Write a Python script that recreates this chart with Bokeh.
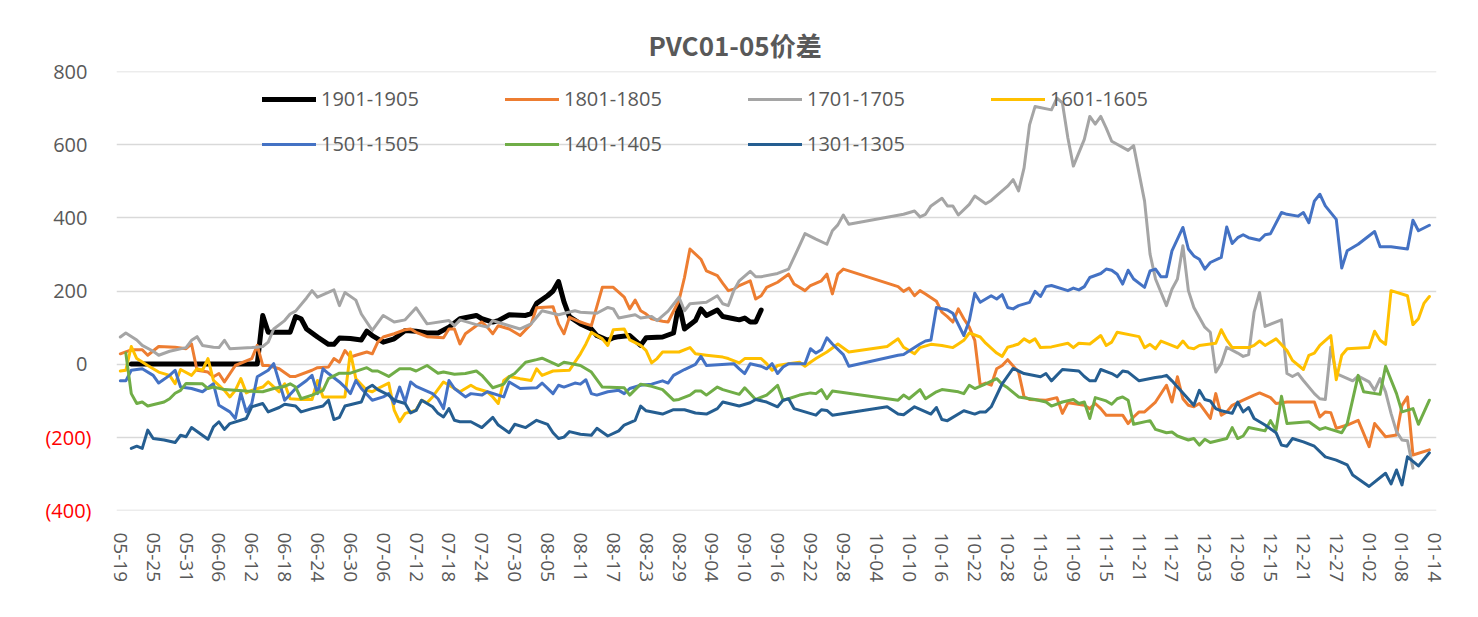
from bokeh.plotting import figure
from bokeh.models import FixedTicker, Legend, LegendItem, Range1d, LinearAxis
from bokeh.embed import file_html
from bokeh.resources import INLINE

TITLE = "PVC01-05价差"
# x = days after 05-19 (calendar days); y = spread value
TICK_DAYS = list(range(0, 241, 6))
TICK_LABELS = ["05-19", "05-25", "05-31", "06-06", "06-12", "06-18", "06-24", "06-30",
               "07-06", "07-12", "07-18", "07-24", "07-30", "08-05", "08-11", "08-17",
               "08-23", "08-29", "09-04", "09-10", "09-16", "09-22", "09-28", "10-04",
               "10-10", "10-16", "10-22", "10-28", "11-03", "11-09", "11-15", "11-21",
               "11-27", "12-03", "12-09", "12-15", "12-21", "12-27", "01-02", "01-08", "01-14"]
Y_TICKS = [-400, -200, 0, 200, 400, 600, 800]
Y_LABELS = ["(400)", "(200)", "0", "200", "400", "600", "800"]

S_1901 = [(2,0),(25,0),(26,133),(27,87),(31,87),(32,130),(33,124),(34,96),(36,74),(38,54),(39,54),(40,71),
          (42,70),(44,66),(45,90),(46,78),(48,60),(50,69),(52,92),(54,90),(56,85),(58,85),(60,101),(62,124),
          (65,133),(66,124),(68,115),(69,119),(71,135),(74,133),(75,138),(76,166),(78,187),(79,200),(80,226),
          (81,170),(82,130),(84,110),(86,96),(87,78),(89,65),(90,72),(91,75),(93,78),(95,51),(96,72),(99,74),
          (101,85),(102,166),(103,96),(105,119),(106,151),(107,133),(109,148),(110,130),(112,124),(113,121),
          (114,126),(115,115),(116,115),(117,148)]

S_1801 = [(0,28),(2,39),(4,39),(5,24),(7,48),(10,46),(12,42),(13,55),(14,-17),(16,-22),(17,-35),(18,-26),
          (19,-49),(21,-4),(24,15),(25,51),(26,-4),(27,-4),(29,-13),(31,-34),(32,-34),(35,-17),(36,-10),(38,-8),
          (39,15),(40,5),(41,37),(42,19),(43,24),(45,33),(46,28),(47,60),(48,74),(50,83),(52,94),(53,96),(54,87),
          (56,75),(59,72),(60,96),(61,96),(62,55),(63,83),(65,105),(66,115),(67,101),(68,83),(69,105),(71,96),
          (72,87),(73,78),(75,110),(76,154),(79,157),(80,110),(81,83),(82,128),(84,115),(85,110),(86,105),
          (88,210),(90,210),(92,183),(93,151),(94,175),(95,146),(96,137),(97,124),(99,117),(100,115),(102,174),
          (103,237),(104,315),(106,287),(107,255),(109,242),(110,221),(111,201),(112,205),(113,215),(115,228),
          (116,178),(117,187),(118,210),(120,224),(122,246),(123,219),(125,201),(126,215),(128,228),(129,246),
          (130,192),(131,246),(132,260),(142,212),(143,199),(144,208),(145,187),(146,201),(147,192),(149,172),
          (150,142),(151,130),(152,115),(153,151),(154,124),(155,101),(156,65),(157,-58),(158,-52),(159,-58),
          (160,-13),(161,-4),(162,12),(164,-22),(165,-90),(166,-97),(169,-99),(171,-92),(172,-135),(173,-106),
          (174,-108),(176,-113),(177,-122),(178,-108),(179,-122),(180,-140),(183,-140),(184,-163),(185,-145),
          (186,-131),(187,-131),(189,-104),(191,-58),(192,-104),(193,-35),(194,-95),(195,-113),(196,-117),
          (197,-108),(199,-149),(200,-81),(201,-140),(202,-131),(203,-113),(205,-99),(207,-85),(208,-79),
          (210,-92),(211,-108),(213,-104),(218,-104),(219,-145),(220,-131),(221,-133),(222,-176),(224,-167),
          (226,-154),(228,-226),(229,-163),(231,-199),(233,-194),(234,-113),(235,-90),(236,-249),(239,-235)]

S_1701 = [(0,74),(1,85),(3,66),(4,51),(6,35),(7,24),(9,35),(12,45),(13,65),(14,75),(15,51),(17,46),(18,45),
          (19,65),(20,42),(24,45),(26,48),(27,60),(28,96),(30,119),(31,137),(32,145),(34,181),(35,201),(36,183),
          (39,203),(40,160),(41,196),(43,175),(44,137),(46,92),(48,133),(50,115),(52,121),(54,154),(56,110),
          (60,119),(61,105),(62,121),(65,108),(67,101),(68,119),(71,105),(73,96),(75,110),(77,146),(80,135),
          (83,146),(84,142),(87,139),(89,155),(90,151),(91,126),(94,135),(95,126),(97,130),(98,119),(100,145),
          (102,183),(103,146),(104,165),(107,169),(109,187),(110,165),(111,160),(112,201),(113,228),(115,254),
          (116,239),(117,239),(120,248),(122,260),(123,292),(124,324),(125,357),(127,342),(129,328),(130,365),
          (131,381),(132,408),(133,383),(143,410),(145,419),(146,403),(147,410),(148,433),(150,454),(151,433),
          (152,433),(153,408),(155,437),(156,460),(158,439),(159,448),(161,474),(162,487),(163,505),(164,474),
          (165,537),(166,655),(167,705),(170,696),(171,728),(172,715),(173,619),(174,542),(176,615),(177,678),
          (178,657),(179,678),(180,646),(181,610),(184,585),(185,598),(187,446),(188,301),(189,233),(191,160),
          (192,205),(193,233),(194,324),(195,201),(196,155),(198,101),(199,87),(200,-22),(201,1),(202,46),
          (204,30),(205,21),(206,26),(207,142),(208,196),(209,103),(212,121),(213,-26),(214,-34),(215,-26),
          (216,-45),(218,-81),(219,-95),(220,-97),(221,46),(222,-26),(225,-46),(226,-33),(228,-49),(229,-72),
          (230,-40),(231,-76),(232,-135),(233,-185),(234,-208),(235,-210),(236,-285)]

S_1601 = [(0,-19),(1,-17),(2,48),(3,15),(5,-4),(7,-22),(9,-31),(10,-54),(11,-15),(13,-31),(14,-13),(15,-17),
          (16,15),(17,-45),(19,-72),(20,-90),(21,-72),(22,-40),(23,-79),(24,-72),(26,-63),(27,-49),(29,-76),
          (30,-54),(31,-95),(33,-97),(35,-97),(36,-45),(37,-90),(39,-90),(41,-90),(42,33),(43,-40),(45,-72),
          (46,-76),(47,-67),(49,-52),(50,-126),(51,-158),(52,-135),(54,-126),(55,-99),(56,-106),(57,-90),(59,-49),
          (60,-58),(62,-76),(63,-67),(64,-58),(65,-67),(67,-76),(68,-90),(69,-108),(70,-45),(71,-34),(73,-40),
          (75,-45),(76,-13),(77,-31),(79,-19),(82,-17),(84,28),(85,55),(86,87),(88,69),(89,51),(90,94),(92,96),
          (93,66),(95,51),(96,37),(97,3),(98,15),(99,33),(102,33),(104,45),(105,28),(107,24),(110,19),(111,15),
          (113,3),(114,15),(117,15),(118,1),(119,-17),(120,-4),(122,1),(124,5),(125,-6),(126,5),(127,15),(129,33),
          (131,55),(133,33),(140,48),(142,69),(143,46),(145,28),(146,45),(148,54),(150,51),(152,45),(153,55),
          (154,65),(155,85),(157,74),(158,57),(160,30),(161,21),(162,46),(163,50),(164,55),(165,69),(166,60),
          (167,69),(168,45),(170,47),(173,57),(174,45),(175,57),(177,55),(179,78),(180,51),(181,60),(182,87),
          (186,75),(187,45),(188,54),(189,42),(190,63),(193,45),(194,63),(195,45),(196,42),(197,51),(200,57),
          (201,94),(202,66),(203,45),(206,45),(207,51),(208,63),(209,51),(211,69),(213,37),(214,10),(216,-15),
          (217,24),(218,30),(219,51),(221,78),(222,-43),(223,24),(224,42),(228,45),(229,90),(230,65),(231,54),
          (232,201),(235,187),(236,108),(237,124),(238,166),(239,185)]

S_1501 = [(0,-46),(1,-46),(2,-17),(4,-13),(6,-31),(7,-52),(9,-31),(10,-17),(11,-63),(13,-67),(15,-76),(17,-54),
          (18,-113),(20,-131),(21,-149),(22,-79),(23,-131),(24,-108),(25,-35),(27,-17),(28,1),(30,-99),(32,-67),
          (34,-45),(35,-31),(36,-81),(37,-13),(38,-26),(40,-49),(41,-63),(42,-81),(43,-45),(44,-67),(46,-99),
          (48,-90),(49,-81),(50,-108),(51,-63),(52,-104),(53,-49),(54,-61),(57,-81),(58,-95),(59,-122),(60,-45),
          (61,-67),(63,-90),(64,-81),(66,-85),(67,-76),(70,-90),(71,-49),(73,-67),(76,-65),(77,-52),(79,-81),
          (80,-58),(81,-63),(83,-52),(84,-55),(85,-43),(86,-81),(87,-85),(89,-76),(91,-72),(92,-81),(93,-67),
          (95,-58),(97,-55),(99,-46),(100,-52),(101,-31),(103,-15),(105,-1),(106,21),(107,-4),(112,1),(113,-13),
          (114,-26),(115,1),(117,-6),(118,-13),(119,1),(120,-26),(121,-8),(122,1),(125,1),(126,42),(127,30),
          (128,39),(129,72),(130,55),(132,26),(133,-6),(142,24),(143,26),(146,55),(147,63),(148,66),(149,155),
          (151,148),(152,139),(154,78),(155,119),(156,194),(157,169),(159,187),(160,178),(161,190),(162,155),
          (163,151),(164,160),(166,169),(167,199),(168,185),(169,212),(170,215),(173,201),(174,208),(175,203),
          (176,212),(177,237),(179,248),(180,260),(181,257),(182,246),(183,219),(184,257),(185,233),(187,210),
          (188,255),(189,260),(190,239),(191,239),(192,310),(194,374),(195,315),(196,296),(197,287),(198,260),
          (199,278),(201,292),(202,375),(203,330),(204,346),(205,354),(206,346),(208,339),(209,354),(210,357),
          (212,415),(213,410),(215,405),(216,415),(217,387),(218,446),(219,465),(220,433),(222,396),(223,263),
          (224,310),(226,328),(229,363),(230,321),(232,321),(235,315),(236,394),(237,365),(239,380)]

S_1401 = [(1,30),(2,-81),(3,-108),(4,-104),(5,-115),(8,-104),(9,-95),(10,-80),(11,-72),(12,-53),(15,-54),
          (16,-67),(17,-63),(19,-70),(23,-74),(26,-76),(28,-67),(30,-61),(31,-54),(32,-63),(33,-95),(35,-85),
          (37,-72),(38,-40),(40,-25),(42,-25),(45,-10),(46,-19),(47,-19),(49,-34),(51,-13),(53,-13),(54,-19),
          (56,-4),(58,-25),(59,-22),(61,-28),(63,-26),(65,-19),(66,-31),(68,-65),(70,-55),(71,-35),(72,-26),
          (74,5),(76,12),(77,16),(80,-4),(81,5),(82,2),(84,-4),(86,-22),(88,-63),(92,-65),(93,-85),(95,-55),
          (97,-61),(99,-70),(101,-99),(102,-97),(104,-85),(105,-74),(106,-74),(107,-85),(109,-63),(110,-70),
          (113,-83),(114,-65),(116,-97),(118,-85),(119,-72),(120,-58),(121,-99),(122,-95),(124,-85),(126,-79),
          (127,-81),(128,-70),(129,-95),(130,-74),(142,-99),(143,-85),(144,-95),(146,-70),(147,-95),(149,-76),
          (150,-70),(153,-76),(154,-81),(155,-58),(156,-67),(158,-54),(160,-40),(161,-55),(162,-65),(164,-90),
          (167,-97),(169,-104),(170,-115),(172,-104),(174,-97),(175,-108),(176,-104),(177,-149),(178,-92),
          (180,-101),(181,-110),(182,-95),(183,-90),(184,-99),(185,-165),(188,-155),(189,-179),(191,-188),
          (192,-186),(193,-197),(195,-208),(196,-204),(197,-222),(198,-206),(199,-215),(202,-204),(203,-174),
          (204,-204),(205,-197),(206,-174),(209,-183),(210,-155),(211,-181),(212,-88),(213,-163),(217,-158),
          (219,-179),(220,-174),(221,-179),(223,-188),(224,-163),(226,-31),(227,-76),(230,-83),(231,-6),
          (233,-81),(234,-131),(236,-122),(237,-165),(239,-99)]

S_1301 = [(2,-231),(3,-225),(4,-231),(5,-181),(6,-204),(8,-208),(10,-215),(11,-195),(12,-199),(13,-174),
          (16,-206),(17,-172),(18,-158),(19,-179),(20,-163),(23,-149),(24,-117),(26,-108),(27,-131),(29,-119),
          (30,-110),(32,-115),(33,-131),(35,-122),(37,-115),(38,-99),(39,-152),(40,-146),(41,-115),(44,-104),
          (45,-67),(46,-58),(47,-70),(49,-85),(50,-99),(52,-108),(53,-134),(54,-127),(55,-99),(57,-117),(58,-135),
          (59,-145),(60,-122),(61,-154),(62,-158),(64,-158),(66,-174),(68,-146),(69,-167),(71,-188),(72,-165),
          (74,-174),(76,-154),(78,-165),(79,-188),(80,-204),(81,-200),(82,-185),(84,-192),(86,-195),(87,-176),
          (89,-197),(91,-183),(92,-167),(94,-154),(95,-115),(96,-128),(99,-137),(101,-125),(103,-125),(105,-134),
          (107,-137),(109,-122),(110,-104),(113,-115),(115,-106),(116,-97),(118,-104),(120,-117),(121,-99),
          (122,-95),(123,-122),(127,-140),(128,-125),(129,-127),(130,-140),(140,-117),(142,-137),(143,-139),
          (145,-117),(148,-137),(149,-119),(150,-152),(151,-155),(154,-128),(156,-137),(157,-131),(158,-131),
          (159,-117),(161,-54),(163,-12),(165,-26),(168,-35),(169,-26),(170,-46),(172,-15),(175,-19),(176,-34),
          (177,-46),(178,-46),(179,-15),(181,-26),(182,-35),(183,-19),(184,-22),(186,-46),(189,-37),(190,-35),
          (191,-31),(192,-46),(194,-79),(196,-113),(197,-72),(198,-97),(199,-101),(200,-122),(201,-128),
          (203,-135),(204,-104),(205,-131),(206,-119),(207,-149),(209,-167),(211,-188),(212,-222),(213,-225),
          (214,-204),(216,-213),(218,-225),(220,-254),(222,-263),(224,-276),(225,-304),(228,-335),(231,-299),
          (232,-328),(233,-290),(234,-331),(235,-254),(237,-279),(239,-243)]

NAMES = ["1901-1905", "1801-1805", "1701-1705", "1601-1605", "1501-1505", "1401-1405", "1301-1305"]
SERIES = [S_1901, S_1801, S_1701, S_1601, S_1501, S_1401, S_1301]
COLORS = ["#000000", "#ED7D31", "#A5A5A5", "#FFC000", "#4472C4", "#70AD47", "#255E91"]
WIDTHS = [5, 3, 3, 3, 3, 3, 3]

FONT = "Open Sans"
GRAY = "#595959"

p = figure(width=1462, height=601, output_backend="svg", toolbar_location=None,
           x_range=Range1d(-0.7, 240.3), y_range=Range1d(-401, 801),
           min_border_left=116, min_border_right=26, min_border_top=71, min_border_bottom=91)
p.outline_line_color = None
p.background_fill_color = "white"
p.border_fill_color = "white"
p.styles = {"outline": "1px solid #D9D9D9", "outline-offset": "-2px"}

p.title.text = TITLE
p.title.align = "left"
p.title.offset = 532
p.title.standoff = 18
p.title.text_font = "Noto Sans CJK SC"
p.title.text_font_size = "26px"
p.title.text_font_style = "bold"
p.title.text_color = GRAY

renderers = []
for s, c, w in zip(SERIES, COLORS, WIDTHS):
    xs = [a for a, b in s]
    ys = [b for a, b in s]
    r = p.line(xs, ys, line_color=c, line_width=w, line_join="round", line_cap="round")
    renderers.append(r)

p.xgrid.grid_line_color = None
p.ygrid.ticker = FixedTicker(ticks=Y_TICKS)
p.ygrid.grid_line_color = "#D9D9D9"
p.ygrid.grid_line_width = 1.3

p.xaxis.ticker = FixedTicker(ticks=TICK_DAYS)
p.xaxis.major_label_overrides = {d: l for d, l in zip(TICK_DAYS, TICK_LABELS)}
p.xaxis.major_label_orientation = "vertical"
p.xaxis.axis_line_color = None
p.xaxis.major_tick_line_color = None
p.xaxis.minor_tick_line_color = None
p.xaxis.major_label_text_font = FONT
p.xaxis.major_label_text_font_size = "19px"
p.xaxis.major_label_text_color = GRAY
p.xaxis.major_label_standoff = 16

# inner y axis: non-negative labels in gray
yax = p.yaxis[0]
yax.ticker = FixedTicker(ticks=Y_TICKS)
yax.major_label_overrides = {t: (l if t >= 0 else "") for t, l in zip(Y_TICKS, Y_LABELS)}
yax.major_label_text_color = GRAY

# outer y axis: negative labels in red, pulled back next to the inner one
yneg = LinearAxis(ticker=FixedTicker(ticks=Y_TICKS),
                  major_label_overrides={t: (l if t < 0 else "") for t, l in zip(Y_TICKS, Y_LABELS)})
yneg.major_label_text_color = "#FF0000"
p.add_layout(yneg, "left")

for ax in (yax, yneg):
    ax.axis_line_color = None
    ax.major_tick_line_color = None
    ax.minor_tick_line_color = None
    ax.major_tick_out = 0
    ax.major_tick_in = 0
    ax.major_label_text_font = FONT
    ax.major_label_text_font_size = "20px"
yax.major_label_standoff = 29
yneg.major_label_standoff = -41

# legend: 4 columns x 2 rows
for i, (name, r) in enumerate(zip(NAMES, renderers)):
    rw, col = divmod(i, 4)
    leg = Legend(items=[LegendItem(label=name, renderers=[r])],
                 location=(146 + 243 * col, 398 - 45 * rw),
                 padding=0, margin=0, border_line_color=None, background_fill_alpha=0,
                 glyph_width=54, glyph_height=20, label_height=20, label_standoff=5,
                 label_text_font=FONT, label_text_font_size="20px", label_text_color=GRAY,
                 label_text_baseline="middle")
    p.add_layout(leg)

open("out.html", "w").write(file_html(p, INLINE))
